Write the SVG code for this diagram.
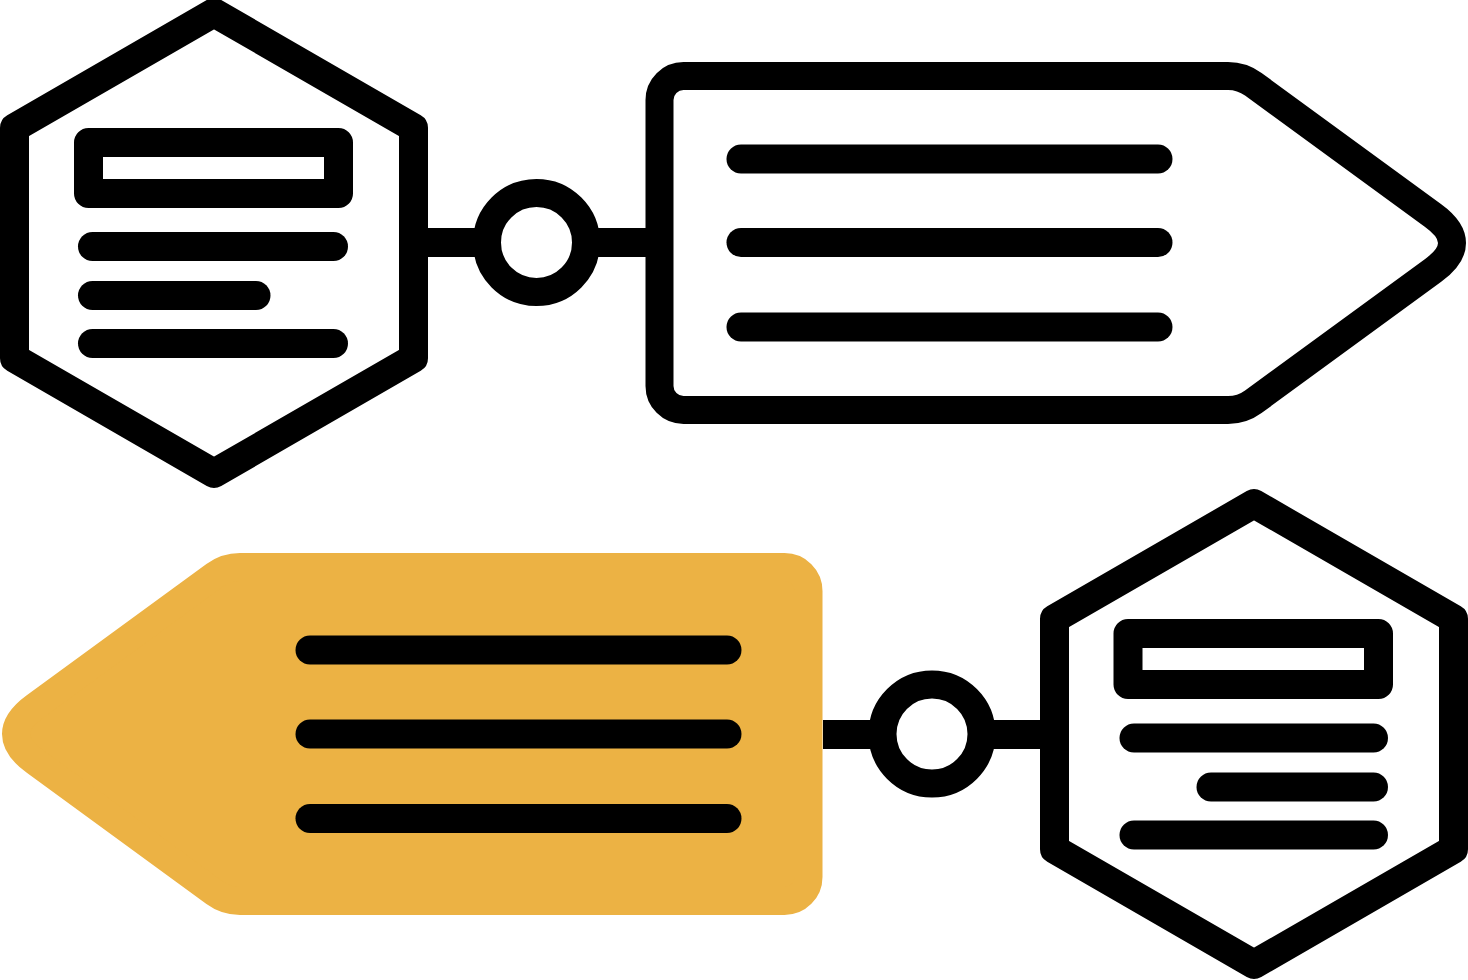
<svg xmlns="http://www.w3.org/2000/svg" width="1468" height="980" viewBox="0 0 1468 980">
  <style>
    .outline { fill: #ffffff; stroke: #000000; stroke-width: 29; stroke-linejoin: round; }
    .bar { stroke: #000000; stroke-width: 29; stroke-linecap: round; fill: none; }
    .link { stroke: #000000; stroke-width: 29; fill: none; }
    .ring { fill: #ffffff; stroke: #000000; stroke-width: 28; }
    .tagfill { fill: #ECB244; stroke: #ECB244; stroke-width: 28; stroke-linejoin: round; }
  </style>
  <defs>
    <path id="tagShape" d="M 659.5 100 A 24 24 0 0 1 683.5 76 L 1228 76 Q 1242 76 1253.3 84.3 L 1433 215.5 Q 1471 243 1433 270.5 L 1253.3 401.7 Q 1242 410 1228 410 L 683.5 410 A 24 24 0 0 1 659.5 386 Z"/>
  </defs>
  <rect x="0" y="0" width="1468" height="980" fill="#ffffff"/>

  <g id="connectors">
    <line class="link" x1="413.5" y1="242.5" x2="659.5" y2="242.5"/>
    <circle class="ring" cx="536.5" cy="242.5" r="49.5"/>
    <line class="link" x1="823" y1="734.5" x2="1054.5" y2="734.5"/>
    <circle class="ring" cx="932" cy="734" r="49.5"/>
  </g>

  <g id="node-hex-top">
    <polygon class="outline" points="214,12.6 413.5,127.8 413.5,358.2 214,473.4 14.5,358.2 14.5,127.8"/>
    <rect x="88.5" y="142.5" width="250" height="51" fill="none" stroke="#000" stroke-width="29" stroke-linejoin="round"/>
    <line class="bar" x1="92.5" y1="246.5" x2="333.5" y2="246.5"/>
    <line class="bar" x1="92.5" y1="295.5" x2="256" y2="295.5"/>
    <line class="bar" x1="92.5" y1="343.5" x2="333.5" y2="343.5"/>
  </g>

  <g id="node-tag-top">
    <use href="#tagShape" fill="#ffffff" stroke="#000000" stroke-width="28" stroke-linejoin="round"/>
    <line class="bar" x1="741" y1="159" x2="1158" y2="159"/>
    <line class="bar" x1="741" y1="242.5" x2="1158" y2="242.5"/>
    <line class="bar" x1="741" y1="327" x2="1158" y2="327"/>
  </g>

  <g id="node-tag-bottom">
    <use href="#tagShape" class="tagfill" transform="translate(1468 491) scale(-1 1)"/>
    <line class="bar" x1="310" y1="650" x2="727" y2="650"/>
    <line class="bar" x1="310" y1="734" x2="727" y2="734"/>
    <line class="bar" x1="310" y1="818.5" x2="727" y2="818.5"/>
  </g>

  <g id="node-hex-bottom">
    <polygon class="outline" points="1254,503.6 1453.5,618.8 1453.5,849.2 1254,964.4 1054.5,849.2 1054.5,618.8"/>
    <rect x="1128" y="633.5" width="250.5" height="51" fill="none" stroke="#000" stroke-width="29" stroke-linejoin="round"/>
    <line class="bar" x1="1134" y1="738" x2="1373.5" y2="738"/>
    <line class="bar" x1="1211" y1="787" x2="1373.5" y2="787"/>
    <line class="bar" x1="1134" y1="835" x2="1373.5" y2="835"/>
  </g>
</svg>
